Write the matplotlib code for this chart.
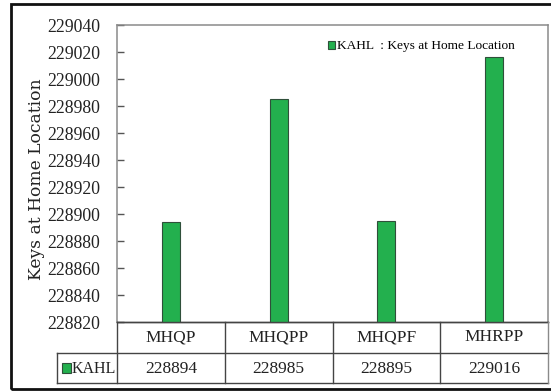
import matplotlib
matplotlib.use("Agg")
import matplotlib.pyplot as plt
from matplotlib.patches import Rectangle

categories = ["MHQP", "MHQPP", "MHQPF", "MHRPP"]
kahl_values = [228894, 228985, 228895, 229016]
series_name = "KAHL"
legend_label = "KAHL  : Keys at Home Location"
y_ticks = list(range(228820, 229041, 20))

W, H = 551, 391
plt.rcParams["font.family"] = ["Liberation Serif", "DejaVu Serif"]

fig = plt.figure(figsize=(W / 100, H / 100), dpi=100)
fig.patch.set_facecolor("white")

def fx(px):
    return px / W

def fy(py):
    return 1 - py / H

# plot area in pixel coordinates
L, R, T, B = 117, 548, 25, 322
ax = fig.add_axes([fx(L), fy(B), fx(R) - fx(L), fy(T) - fy(B)])
ax_w = R - L
cat_px = ax_w / len(categories)

bar_color = "#23B04E"
edge_color = "#2F4F3A"
x = list(range(len(categories)))
ax.bar(x, kahl_values, width=0.165, color=bar_color, edgecolor=edge_color,
       linewidth=0.8, zorder=3, label=legend_label)
ax.set_xlim(-0.5, len(categories) - 0.5)
ax.set_ylim(y_ticks[0], y_ticks[-1])
ax.set_yticks(y_ticks)
ax.set_yticklabels([str(v) for v in y_ticks], fontsize=12.8, color="#222222")
ax.set_xticks([])
ax.tick_params(axis="y", direction="in", length=5, width=1, color="#555555", pad=12)
for s in ["top", "right", "left"]:
    ax.spines[s].set_color("#8a8a8a")
    ax.spines[s].set_linewidth(1.1)
ax.spines["bottom"].set_color("#333333")
ax.spines["bottom"].set_linewidth(1)

ax.set_ylabel("Keys at Home Location", fontsize=12.3, color="#222222",
              family=["DejaVu Serif"])
ax.yaxis.set_label_coords((45 - L) / ax_w, (B - 179) / (B - T))

leg = ax.legend(loc="center right", bbox_to_anchor=((515 - L) / ax_w, (B - 46.5) / (B - T)),
                frameon=False, fontsize=9.6, handlelength=0.55, handleheight=0.55,
                handletextpad=0.15, borderaxespad=0, borderpad=0)

# data table under the plot area
TB = 383
tab = fig.add_axes([fx(L), fy(TB), fx(R) - fx(L), fy(B) - fy(TB)])
tab.set_xlim(-0.5, len(categories) - 0.5)
tab.set_ylim(0, 2)
tab.axis("off")
line_c = "#444444"
lw = 1
left_cell = -0.5 - (L - 57) / cat_px
# horizontal rules
tab.plot([-0.5, len(categories) - 0.5], [2, 2], color=line_c, lw=lw, clip_on=False)
tab.plot([left_cell, len(categories) - 0.5], [1, 1], color=line_c, lw=lw, clip_on=False)
tab.plot([left_cell, len(categories) - 0.5], [0, 0], color=line_c, lw=lw, clip_on=False)
# vertical rules
tab.plot([left_cell, left_cell], [0, 1], color=line_c, lw=lw, clip_on=False)
for i in range(len(categories) + 1):
    xv = i - 0.5
    c = "#8a8a8a" if i == len(categories) else line_c
    tab.plot([xv, xv], [0, 2], color=c, lw=lw, clip_on=False)

for i, (cat, val) in enumerate(zip(categories, kahl_values)):
    tab.text(i, 1.5, cat, ha="center", va="center", fontsize=12.5, color="#222222")
    tab.text(i, 0.45, str(val), ha="center", va="center", fontsize=12.5, color="#222222")

# legend key for the table row
tab.add_patch(Rectangle((left_cell + 5 / cat_px, 0.32), 8.5 / cat_px, 0.33,
                        facecolor=bar_color, edgecolor=edge_color, lw=0.8, clip_on=False))
tab.text(left_cell + 15 / cat_px, 0.45, series_name,
         ha="left", va="center", fontsize=11.5, color="#222222")

# outer chart border
fig.add_artist(Rectangle((fx(11), fy(389)), fx(560) - fx(11), fy(4) - fy(389),
                         transform=fig.transFigure, fill=False, edgecolor="#111111",
                         lw=2, clip_on=False))

fig.savefig("out.png", dpi=100)
